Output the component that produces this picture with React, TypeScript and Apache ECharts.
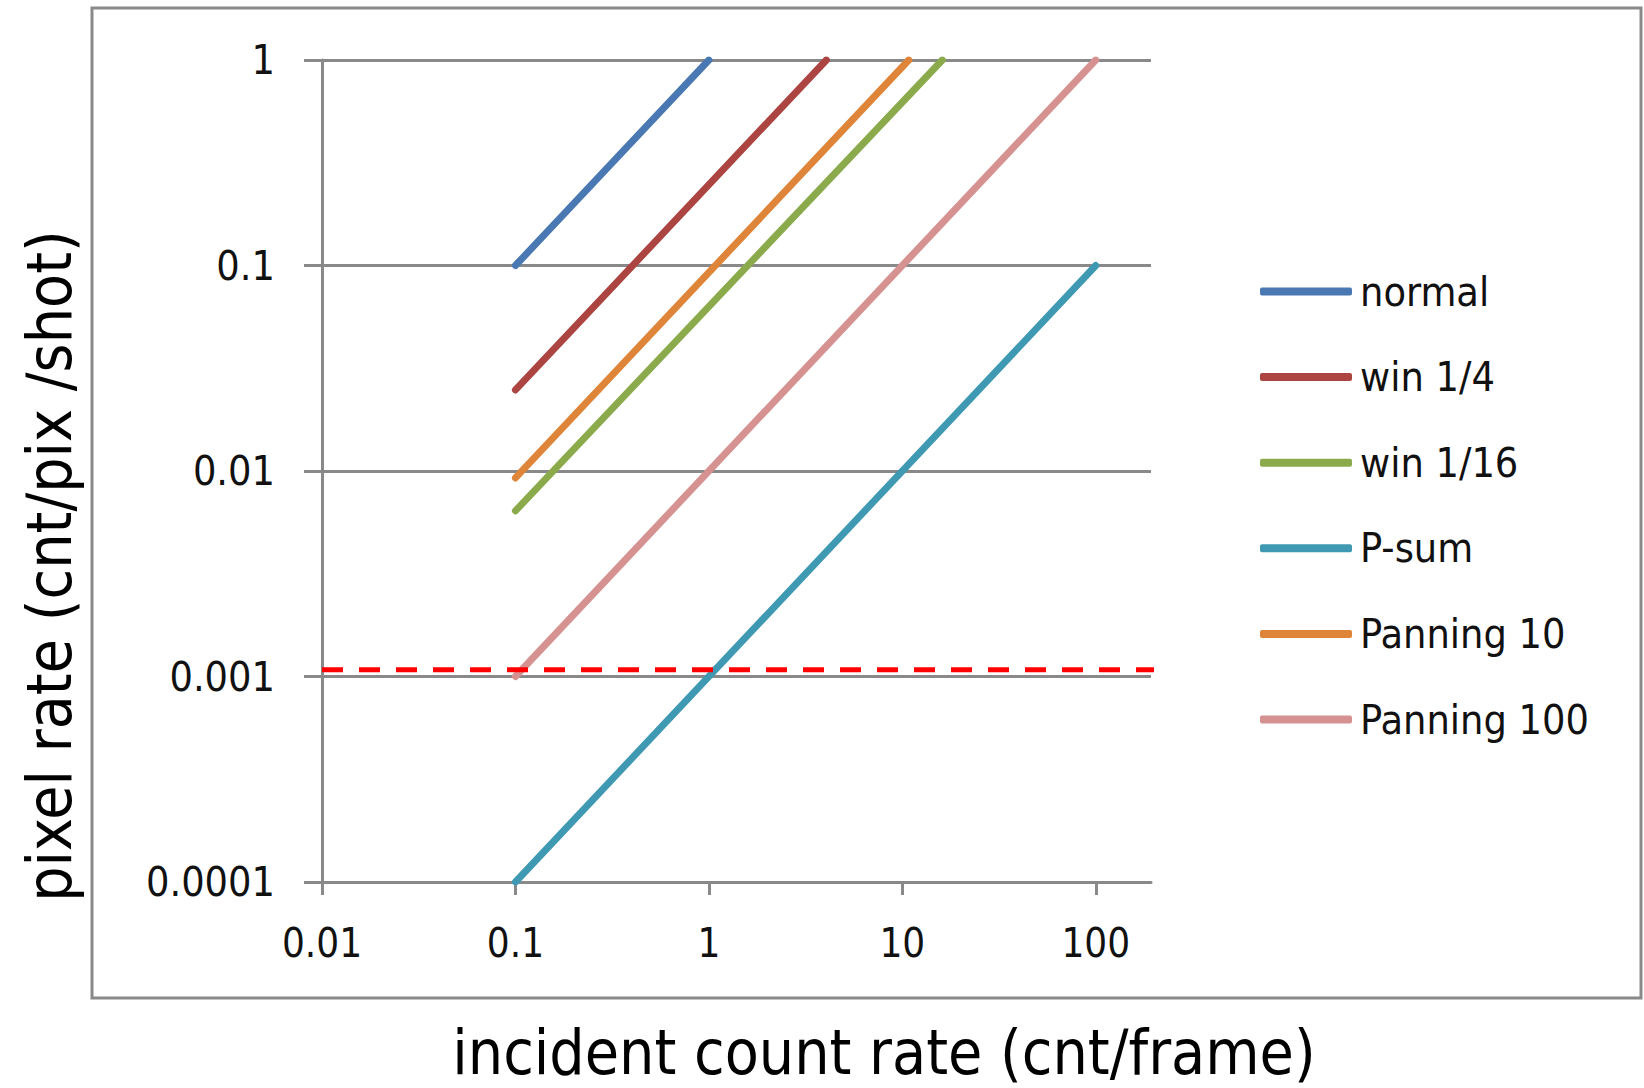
import React, { useEffect, useRef } from "react";
import * as echarts from "echarts";

const seriesNames = ["normal", "win 1/4", "win 1/16", "P-sum", "Panning 10", "Panning 100"];
const seriesColors = ["#4A78B2", "#AC4542", "#8AAA4B", "#4099B3", "#DF8539", "#D59291"];
const normalPts = [[0.1, 0.1], [1, 1]];
const win4Pts = [[0.1, 0.0248], [4.05, 1]];
const win16Pts = [[0.1, 0.0064], [16.1, 1]];
const psumPts = [[0.1, 0.0001], [100, 0.1]];
const pan10Pts = [[0.1, 0.00925], [10.8, 1]];
const pan100Pts = [[0.1, 0.001], [100, 1]];
const thresholdPts = [[0.01, 0.00108], [226, 0.00108]];
const xTicks = [0.01, 0.1, 1, 10, 100];
const xTickLabels = ["0.01", "0.1", "1", "10", "100"];
const yTicks = [0.0001, 0.001, 0.01, 0.1, 1];
const yTickLabels = ["0.0001", "0.001", "0.01", "0.1", "1"];
const xTitle = "incident count rate (cnt/frame)";
const yTitle = "pixel rate (cnt/pix /shot)";

const FONT = "'DejaVu Sans Condensed', 'DejaVu Sans', sans-serif";
const GRAY = "#898989";

function labelFor(v: number, ticks: number[], labels: string[]) {
  const i = ticks.findIndex((t) => Math.abs(Math.log10(t) - Math.log10(v)) < 0.01);
  return i >= 0 ? labels[i] : "";
}

export default function App() {
  const ref = useRef<HTMLDivElement>(null);
  useEffect(() => {
    document.body.style.margin = "0";
    const chart = echarts.init(ref.current!, null, { renderer: "svg" });
    const dataSets = [normalPts, win4Pts, win16Pts, psumPts, pan10Pts, pan100Pts];
    const series: any[] = dataSets.map((d, i) => ({
      name: seriesNames[i],
      type: "line",
      data: d,
      symbol: "none",
      color: seriesColors[i],
      lineStyle: { width: 7, color: seriesColors[i], cap: "round" },
      z: 3,
    }));
    series.push({
      name: "threshold",
      type: "line",
      data: thresholdPts,
      symbol: "none",
      clip: false,
      lineStyle: { width: 5, color: "#FF0000", type: [21, 16] },
      z: 4,
    });
    chart.setOption({
      animation: false,
      backgroundColor: "#ffffff",
      grid: { left: 322, top: 60, width: 829, height: 822, containLabel: false },
      legend: {
        data: seriesNames,
        orient: "vertical",
        left: 1255,
        top: 266,
        icon: "roundRect",
        itemWidth: 92,
        itemHeight: 8,
        itemGap: 44.6,
        textStyle: { fontFamily: FONT, fontSize: 41, color: "#111", lineHeight: 40, padding: [0, 0, 0, 3] },
      },
      xAxis: {
        type: "log",
        logBase: 10,
        min: 0.01,
        max: 193,
        axisLine: { show: true, lineStyle: { color: GRAY, width: 3 } },
        axisTick: { show: true, length: 13, customValues: xTicks, lineStyle: { color: GRAY, width: 3 } },
        axisLabel: {
          customValues: xTicks,
          margin: 41,
          fontFamily: FONT,
          fontSize: 40,
          color: "#111",
          formatter: (v: number) => labelFor(v, xTicks, xTickLabels),
        },
        splitLine: { show: false },
      },
      yAxis: {
        type: "log",
        logBase: 10,
        min: 0.0001,
        max: 1,
        axisLine: { show: true, lineStyle: { color: GRAY, width: 3 } },
        axisTick: { show: true, length: 18, lineStyle: { color: GRAY, width: 3 } },
        axisLabel: {
          margin: 47,
          fontFamily: FONT,
          fontSize: 41,
          color: "#111",
          formatter: (v: number) => labelFor(v, yTicks, yTickLabels),
        },
        splitLine: { show: true, lineStyle: { color: GRAY, width: 3 } },
      },
      graphic: [
        {
          type: "rect",
          shape: { x: 92, y: 8, width: 1549, height: 990 },
          style: { fill: "none", stroke: GRAY, lineWidth: 3 },
          silent: true,
        },
        {
          type: "text",
          x: 49,
          y: 566,
          rotation: Math.PI / 2,
          style: { text: yTitle, font: `62px ${FONT}`, fill: "#000", textAlign: "center", textVerticalAlign: "middle" },
        },
        {
          type: "text",
          x: 884,
          y: 1052,
          style: { text: xTitle, font: `62px ${FONT}`, lineHeight: 62, fill: "#000", textAlign: "center", textVerticalAlign: "middle" },
        },
      ],
      series,
    });
    return () => chart.dispose();
  }, []);
  return <div ref={ref} style={{ width: 1644, height: 1088 }} />;
}
